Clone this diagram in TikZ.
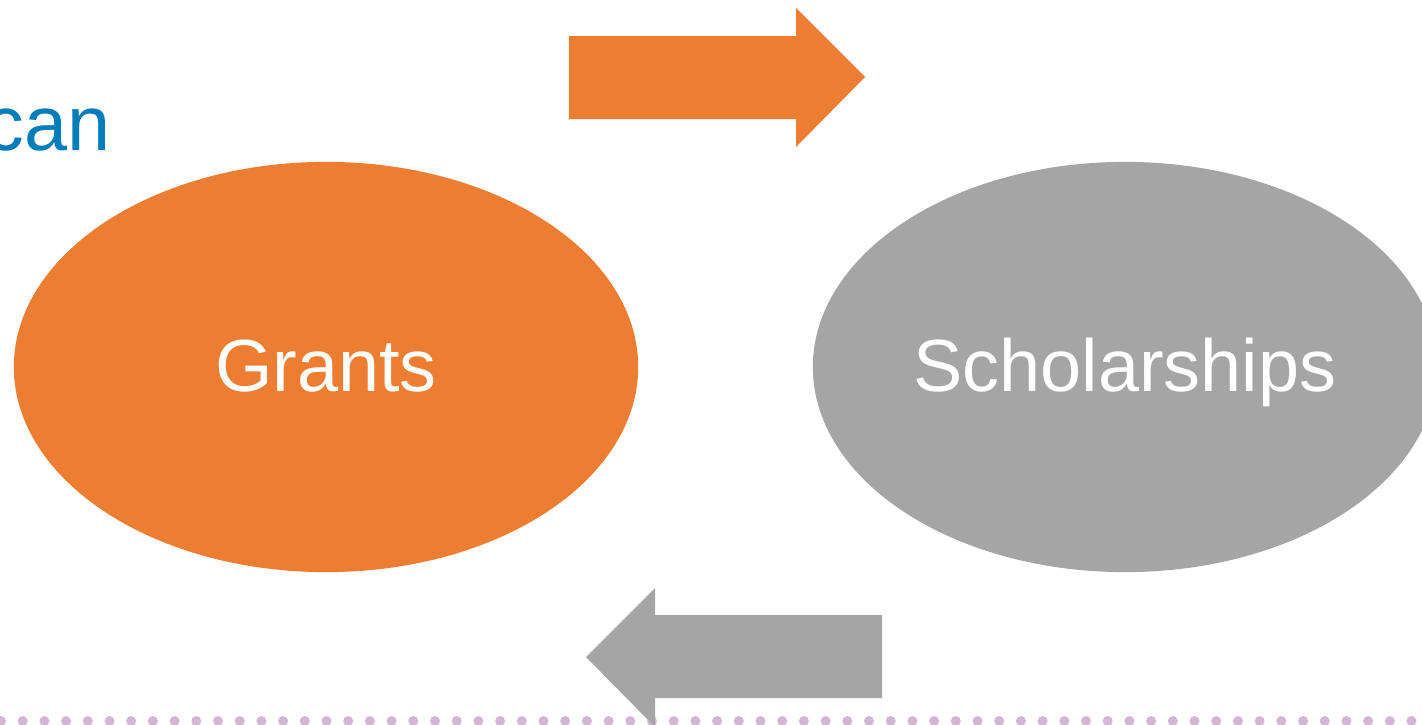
\documentclass[tikz,border=0pt]{standalone}
\usepackage{fontspec}
\setmainfont{Liberation Sans}
\usetikzlibrary{shapes.geometric}
\definecolor{orng}{HTML}{ED7D31}
\definecolor{gry}{HTML}{A5A5A5}
\definecolor{blu}{HTML}{007DBA}
\definecolor{dotc}{HTML}{D4B5D5}
\tikzset{
  blob/.style={ellipse, minimum width=6.24cm, minimum height=4.10cm, inner sep=0pt, text=white, text height=14.7pt, text depth=0.5pt, font=\fontsize{21}{25}\selectfont},
  dotmark/.style={fill=dotc, draw=none},
}
\begin{document}
\begin{tikzpicture}[x=0.01cm, y=-0.01cm]
\useasboundingbox (0,0) rectangle (1422,724);
\clip (0,0) rectangle (1422,724);
\fill[white] (0,0) rectangle (1422,724);
% title fragment
\node[anchor=base east, inner sep=0pt, text=blu, font=\fontsize{22}{26}\selectfont] (can) at (111,150) {can};
% ellipses
\node[blob, fill=orng] (grants) at (326,367) {Grants};
\node[blob, fill=gry] (schol) at (1125,367) {Scholarships};
% dotted rule
\foreach \i in {0,...,66} {
  \fill[dotmark] ({1+21.7*\i},721) circle (5);
}
% block arrows
\fill[orng] (569,36) -- (796,36) -- (796,8) -- (865,77) -- (796,147) -- (796,119) -- (569,119) -- cycle;
\fill[gry] (882,615) -- (655,615) -- (655,588) -- (586,657) -- (655,727) -- (655,698) -- (882,698) -- cycle;
\end{tikzpicture}
\end{document}
